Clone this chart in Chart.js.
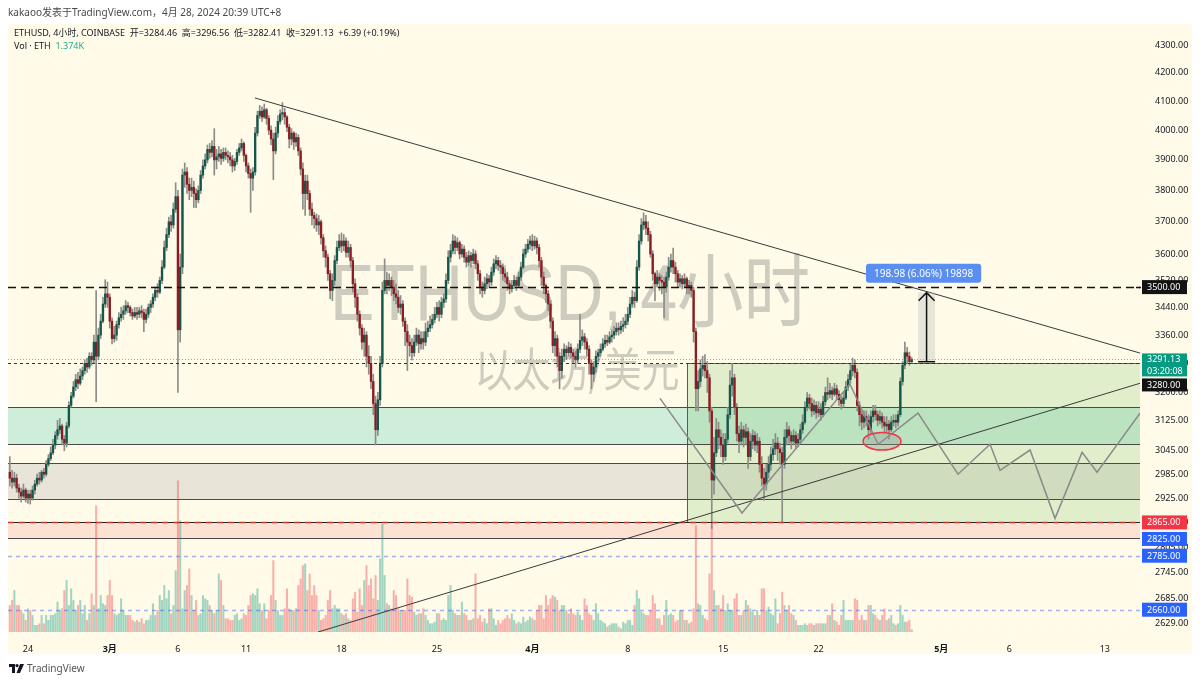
<!DOCTYPE html>
<html>
<head>
<meta charset="utf-8">
<script src="https://cdn.jsdelivr.net/npm/chart.js@4.4.1/dist/chart.umd.min.js"></script>
<style>
  html, body { margin: 0; padding: 0; background: #ffffff; }
  #wrap { position: relative; width: 1200px; height: 681px; overflow: hidden; font-family: 'Noto Sans', 'Noto Sans CJK SC', sans-serif; }
  #chart { position: absolute; left: 0; top: 0; }
  #hdr { position: absolute; left: 8px; top: 4px; font-size: 10px; color: #4a4a4a; white-space: nowrap; }
  #foot { position: absolute; left: 9px; top: 661px; font-size: 10px; color: #555; white-space: nowrap; display: flex; align-items: center; gap: 3px; }
</style>
</head>
<body>
<div id="wrap">
  <canvas id="chart" width="1200" height="681"></canvas>
  <div id="hdr">kakaoo发表于TradingView.com，4月 28, 2024 20:39 UTC+8</div>
  <div id="foot">
    <svg width="15" height="9" viewBox="0 0 15 9"><path d="M0 0h6v9H3V3H0z" fill="#131722"/><circle cx="8" cy="1.6" r="1.6" fill="#131722"/><path d="M11 0h4l-4 9H7.5z" fill="#131722"/></svg>
    <span>TradingView</span>
  </div>
</div>
<script>
// ETHUSD 4h candles (UTC+8), first one = Feb 22 16:00, last = Apr 28 20:00
const firstOpen = 2990;
const closes = [
  2975,2965,2975,2950,2940,2930,2945,2925,
  2935,2925,2945,2960,2975,2970,
  2990,2985,3010,3025,3040,3060,
  3085,3100,3110,3075,3065,3110,
  3165,3190,3215,3235,3225,3245,
  3260,3280,3270,3300,3290,3340,
  3300,3360,3400,3450,3480,3470,
  3400,3350,3360,3390,3410,3420,
  3430,3445,3440,3425,3415,3425,
  3420,3430,3425,3405,3420,3440,
  3450,3470,3490,3485,3520,3560,
  3620,3660,3700,3690,3740,3780,
  3375,3560,3850,3860,3820,3800,
  3810,3790,3770,3800,3850,3880,
  3900,3935,3925,3945,3900,3910,
  3920,3905,3925,3915,3910,3900,
  3880,3895,3925,3940,3955,3915,
  3880,3855,3840,3860,3990,4050,
  4065,4045,4070,4040,4000,3970,
  3930,3990,4030,4055,4060,4045,
  4010,3970,3990,3960,3975,3930,
  3870,3790,3830,3790,3740,3720,
  3710,3690,3700,3650,3610,3590,
  3540,3490,3520,3580,3620,3640,
  3625,3640,3605,3620,3580,3510,
  3470,3420,3380,3340,3360,3300,
  3280,3230,3170,3100,3180,3280,
  3490,3520,3505,3520,3500,3480,
  3470,3440,3450,3400,3370,3340,
  3330,3310,3340,3360,3335,3350,
  3340,3370,3380,3390,3405,3420,
  3440,3420,3455,3465,3520,3590,
  3610,3640,3620,3635,3600,3615,
  3590,3575,3595,3580,3600,3570,
  3540,3500,3490,3510,3525,3515,
  3545,3570,3580,3565,3560,3540,
  3530,3510,3495,3505,3520,3505,
  3530,3560,3600,3615,3630,3640,
  3625,3640,3620,3580,3530,3505,
  3480,3450,3400,3330,3350,3300,
  3260,3300,3320,3310,3325,3310,
  3300,3290,3320,3345,3355,3340,
  3320,3280,3250,3270,3300,3310,
  3320,3335,3345,3340,3355,3360,
  3370,3380,3375,3385,3390,3400,
  3420,3450,3470,3460,3560,3640,
  3690,3700,3680,3660,3600,3540,
  3510,3530,3520,3515,3500,3530,
  3560,3580,3560,3540,3515,3525,
  3510,3525,3500,3505,3490,3370,
  3210,3230,3265,3275,3260,3240,
  3150,2970,3040,3100,3080,3060,
  3030,3075,3140,3220,3240,3160,
  3090,3070,3100,3080,3095,3030,
  3070,3085,3060,3070,3010,2975,
  2960,2990,3010,3035,3050,3065,
  3050,3040,3010,3080,3100,3085,
  3070,3085,3065,3075,3100,3120,
  3160,3185,3170,3150,3165,3145,
  3155,3140,3175,3200,3195,3205,
  3195,3210,3195,3180,3170,3185,
  3215,3235,3260,3275,3255,3165,
  3140,3120,3135,3125,3100,3135,
  3150,3140,3125,3135,3120,3110,
  3115,3100,3120,3125,3120,3140,
  3230,3275,3310,3300,3284.74,3291.13
];
const highs = [
  3030,2995,2990,2985,2960,2950,2960,2950,
  2945,2945,2955,2970,2985,2990,
  2995,3000,3020,3035,3055,3075,
  3095,3125,3130,3115,3085,3120,
  3175,3200,3230,3250,3255,3265,
  3270,3290,3295,3310,3310,3360,
  3490,3380,3420,3470,3522,3515,
  3480,3410,3385,3400,3425,3440,
  3445,3460,3455,3445,3435,3440,
  3440,3440,3445,3435,3435,3450,
  3460,3480,3500,3510,3530,3580,
  3640,3680,3715,3720,3760,3825,
  3800,3600,3870,3890,3875,3840,
  3840,3830,3805,3815,3865,3900,
  3920,3950,3955,3965,4005,3935,
  3945,3935,3940,3940,3930,3925,
  3915,3905,3935,3955,3970,3960,
  3920,3890,3870,3875,4010,4065,
  4085,4080,4090,4075,4050,4015,
  3990,4010,4050,4070,4095,4075,
  4050,4020,4005,3995,3990,3985,
  3940,3890,3850,3850,3800,3760,
  3730,3725,3720,3705,3660,3625,
  3600,3550,3540,3595,3640,3660,
  3665,3660,3650,3640,3630,3590,
  3525,3480,3430,3390,3380,3370,
  3330,3300,3250,3190,3200,3300,
  3515,3585,3545,3540,3530,3520,
  3510,3490,3475,3460,3410,3390,
  3360,3350,3360,3380,3375,3370,
  3370,3395,3400,3415,3420,3440,
  3455,3460,3470,3480,3540,3610,
  3630,3660,3655,3650,3640,3630,
  3625,3605,3610,3605,3615,3610,
  3580,3550,3515,3530,3540,3535,
  3560,3585,3595,3590,3580,3570,
  3555,3545,3520,3520,3535,3530,
  3545,3575,3615,3630,3645,3655,
  3660,3655,3650,3630,3590,3545,
  3510,3490,3460,3410,3370,3360,
  3310,3320,3335,3330,3340,3335,
  3320,3315,3335,3420,3375,3365,
  3350,3330,3290,3285,3315,3320,
  3335,3350,3360,3360,3370,3375,
  3385,3395,3395,3400,3410,3420,
  3440,3470,3490,3485,3580,3660,
  3710,3728,3720,3700,3670,3610,
  3545,3550,3540,3535,3530,3545,
  3590,3600,3618,3575,3550,3540,
  3535,3540,3530,3520,3515,3500,
  3380,3260,3290,3300,3305,3285,
  3250,3160,3080,3130,3120,3100,
  3090,3090,3160,3260,3280,3250,
  3170,3110,3120,3110,3115,3105,
  3090,3100,3095,3090,3080,3030,
  3000,3010,3030,3055,3075,3090,
  3080,3065,3055,3100,3120,3110,
  3095,3100,3095,3090,3115,3140,
  3175,3200,3195,3185,3180,3175,
  3175,3170,3190,3215,3240,3225,
  3215,3225,3220,3205,3190,3200,
  3230,3250,3280,3295,3290,3265,
  3175,3150,3150,3150,3140,3150,
  3165,3165,3150,3150,3145,3135,
  3135,3125,3135,3140,3140,3150,
  3240,3285,3340,3325,3312,3296.56
];
const lows = [
  2955,2950,2955,2940,2925,2915,2925,2915,
  2912,2910,2920,2935,2955,2960,
  2965,2975,2980,3005,3020,3035,
  3050,3075,3090,3060,3045,3055,
  3105,3160,3185,3205,3210,3220,
  3235,3250,3255,3265,3275,3280,
  3175,3290,3350,3395,3440,3440,
  3380,3335,3340,3345,3380,3400,
  3405,3420,3425,3415,3405,3410,
  3405,3410,3410,3370,3395,3410,
  3425,3440,3460,3470,3480,3510,
  3555,3610,3650,3670,3680,3730,
  3200,3340,3540,3810,3790,3770,
  3780,3745,3745,3760,3790,3840,
  3870,3890,3905,3910,3850,3870,
  3895,3885,3895,3900,3890,3880,
  3860,3865,3885,3915,3930,3895,
  3860,3840,3730,3800,3850,3980,
  4040,4030,4040,4020,3985,3950,
  3835,3920,3975,4020,4035,4020,
  3995,3940,3950,3935,3945,3915,
  3850,3740,3720,3770,3720,3690,
  3680,3670,3660,3630,3590,3560,
  3520,3465,3460,3505,3570,3610,
  3605,3610,3590,3590,3560,3485,
  3440,3400,3360,3320,3300,3270,
  3250,3210,3140,3060,3085,3165,
  3270,3480,3480,3490,3475,3460,
  3450,3425,3420,3385,3330,3260,
  3300,3290,3300,3330,3310,3320,
  3320,3330,3355,3370,3380,3395,
  3410,3400,3410,3440,3455,3510,
  3575,3600,3600,3610,3585,3590,
  3575,3560,3565,3560,3570,3555,
  3520,3480,3470,3480,3495,3500,
  3505,3535,3555,3550,3540,3520,
  3515,3490,3480,3485,3495,3490,
  3500,3520,3555,3590,3605,3615,
  3610,3615,3600,3560,3505,3480,
  3455,3430,3380,3310,3300,3270,
  3210,3240,3285,3290,3300,3295,
  3280,3270,3280,3310,3330,3320,
  3300,3250,3210,3230,3255,3285,
  3300,3315,3325,3330,3335,3340,
  3350,3360,3360,3365,3370,3380,
  3390,3410,3440,3440,3455,3550,
  3630,3675,3660,3640,3590,3520,
  3460,3500,3490,3480,3410,3485,
  3520,3545,3540,3515,3500,3500,
  3495,3500,3480,3480,3470,3340,
  3150,3150,3215,3245,3240,3200,
  3120,2850,2935,3030,3050,3030,
  3010,3020,3065,3130,3190,3140,
  3070,3040,3060,3055,3060,3000,
  3020,3050,3045,3040,2990,2955,
  2920,2945,2975,2995,3020,3035,
  3020,3010,2866,3000,3060,3065,
  3050,3060,3050,3055,3065,3090,
  3115,3150,3155,3135,3140,3130,
  3135,3125,3135,3165,3180,3185,
  3180,3190,3180,3165,3155,3160,
  3180,3205,3225,3245,3240,3150,
  3110,3100,3105,3110,3075,3090,
  3120,3125,3110,3115,3105,3095,
  3095,3075,3095,3110,3105,3110,
  3135,3220,3265,3280,3275,3282.41
];
// volume, thousand ETH
const volumes = [
  16,19,25,16,16,13,11,7,14,13,10,4,4,5,10,5,10,7,10,10,11,18,13,14,25,31,16,26,19,13,16,19,11,16,7,11,23,16,
  76,
  14,22,17,16,22,31,22,11,10,11,20,13,10,10,10,7,6,7,6,8,5,7,7,10,17,10,13,22,19,28,20,25,11,16,37,
  91,67,
  14,25,28,38,22,13,19,10,11,22,20,19,16,13,11,13,35,31,16,8,8,7,7,10,11,7,8,11,10,16,22,23,22,26,17,13,17,8,13,22,
  43,
  19,13,10,10,14,26,14,13,13,14,28,32,40,
  41,25,35,22,28,22,13,7,8,10,19,25,14,16,14,14,11,10,11,8,7,20,24,12,26,16,31,40,28,32,20,34,19,44,
  65,
  34,17,16,14,25,22,14,13,13,13,32,22,21,12,10,11,11,14,10,7,5,5,6,11,11,7,8,7,22,28,13,11,10,10,18,11,10,7,7,8,35,
  8,10,6,8,5,14,14,8,4,7,5,7,8,10,8,11,7,5,6,5,9,6,7,9,8,7,13,16,16,8,22,16,20,22,21,19,13,16,16,13,11,14,11,10,12,10,7,20,16,11,10,7,17,11,7,6,5,3,4,5,
  5,5,3,2,6,5,7,7,4,16,25,20,12,11,10,10,13,22,17,8,8,4,10,19,10,11,10,6,7,13,13,7,7,5,6,14,
  64,
  17,16,10,8,7,
  35,64,
  25,16,16,14,22,13,17,13,13,20,23,10,10,13,19,16,14,12,10,13,10,26,26,13,15,11,10,20,5,11,24,16,13,16,11,10,7,4,4,4,
  5,4,5,5,4,5,5,5,5,5,10,10,17,7,6,4,10,19,7,7,7,7,20,19,7,10,7,7,16,16,11,10,8,7,10,14,7,8,10,5,4,5,16,10,6,6,7,1.374
];

// time axis: candle index of each labelled midnight, and its label
const timeTickIndex = [8, 44, 74, 104, 146, 188, 230, 272, 314, 356, 410, 440, 482];
const timeTickLabels = ['24', '3月', '6', '11', '18', '25', '4月', '8', '15', '22', '5月', '6', '13'];
const monthLabels = ['3月', '4月', '5月'];
const priceTicks = [4300, 4200, 4100, 4000, 3900, 3800, 3700, 3600, 3520, 3440, 3360, 3280,
                    3200, 3125, 3045, 2985, 2925, 2865, 2805, 2745, 2685, 2629];

// last bar as shown in the legend
const lastOpen = 3284.46;

// drawings on the chart (candle index, price)
const upperTrendK = [107.9, 497.5], upperTrendP = [4111, 3309];
const lowerTrendK = [135.7, 497.5], lowerTrendP = [2610, 3225];
const zigK = [286.2, 322.3, 369.8, 382.2, 399.8, 417.4, 431.5, 435.9, 449.1, 460.1, 472.0, 478.6, 497.5];
const zigP = [3184, 2888, 3223, 3062, 3144, 2985, 3062, 2995, 3047, 2875, 3041, 2990, 3144];
const rangeStart = 3284.46, rangeEnd = 3483.44;

const N = closes.length;
if (highs.length !== N || lows.length !== N || volumes.length !== N) {
  console.error('length mismatch', N, highs.length, lows.length, volumes.length);
}
const opens = closes.map((c, i) => (i === 0 ? firstOpen : (i === N - 1 ? lastOpen : closes[i - 1])));
const isUp = closes.map((c, i) => c >= opens[i]);

const FONT = "'Noto Sans', 'Noto Sans CJK SC', sans-serif";
const CREAM = '#fffbe8';

const tvDraw = {
  id: 'tvDraw',
  beforeDraw(chart) {
    const ctx = chart.ctx;
    ctx.save();
    ctx.fillStyle = CREAM;
    ctx.fillRect(8, 24, 1184, 630);
    ctx.restore();
  },
  beforeDatasetsDraw(chart) {
    const ctx = chart.ctx, a = chart.chartArea;
    const X = chart.scales.x, Y = chart.scales.y;
    const px = k => X.getPixelForValue(k), py = p => Y.getPixelForValue(p);
    ctx.save();
    ctx.beginPath(); ctx.rect(a.left, a.top, a.right - a.left, a.bottom - a.top); ctx.clip();

    // watermark
    const cx = (a.left + a.right) / 2, cy = (a.top + a.bottom) / 2;
    ctx.fillStyle = 'rgba(120,120,120,0.36)';
    ctx.textAlign = 'center'; ctx.textBaseline = 'alphabetic';
    ctx.font = "80px 'Liberation Sans', 'Noto Sans CJK SC', sans-serif";
    const t1 = 'ETHUSD, 4小时';
    const w1 = ctx.measureText(t1).width;
    ctx.save(); ctx.translate(cx - 4, cy - 8); ctx.scale(480 / w1, 1); ctx.fillText(t1, 0, 0); ctx.restore();
    ctx.font = "46px 'Noto Sans CJK SC', sans-serif";
    const t2 = '以太坊/美元';
    const w2 = ctx.measureText(t2).width;
    ctx.save(); ctx.translate(cx + 3, cy + 58); ctx.scale(205 / w2, 1); ctx.fillText(t2, 0, 0); ctx.restore();

    const hband = (top, bottom, fill) => {
      const y1 = py(top), y2 = py(bottom);
      ctx.fillStyle = fill;
      ctx.fillRect(a.left, y1, a.right - a.left, y2 - y1);
    };
    hband(3160, 3062, 'rgba(38,190,170,0.22)');
    hband(3013, 2922, 'rgba(130,128,140,0.18)');
    hband(2865, 2827, 'rgba(242,54,69,0.13)');

    // long position box
    const gx = px(298.1), gy1 = py(3280), gy2 = py(2865);
    ctx.fillStyle = 'rgba(120,190,100,0.22)';
    ctx.fillRect(gx, gy1, a.right - gx, gy2 - gy1);
    ctx.strokeStyle = '#5a5a5a'; ctx.lineWidth = 1;
    ctx.beginPath();
    ctx.moveTo(a.right, Math.round(gy1) + 0.5); ctx.lineTo(Math.round(gx) + 0.5, Math.round(gy1) + 0.5);
    ctx.lineTo(Math.round(gx) + 0.5, Math.round(gy2) + 0.5);
    ctx.stroke();

    // zone borders
    ctx.strokeStyle = '#4a4a4a'; ctx.lineWidth = 1;
    [3160, 3062, 3013, 2922, 2827].forEach(p => {
      const y = Math.round(py(p)) + 0.5;
      ctx.beginPath(); ctx.moveTo(a.left, y); ctx.lineTo(a.right, y); ctx.stroke();
    });
    ctx.restore();
  },
  afterDatasetsDraw(chart) {
    const ctx = chart.ctx, a = chart.chartArea;
    const X = chart.scales.x, Y = chart.scales.y;
    const px = k => X.getPixelForValue(k), py = p => Y.getPixelForValue(p);
    ctx.save();
    ctx.beginPath(); ctx.rect(a.left, a.top, a.right - a.left, a.bottom - a.top); ctx.clip();

    const hline = (p, color, width, dash) => {
      const y = Math.round(py(p)) + 0.5;
      ctx.strokeStyle = color; ctx.lineWidth = width; ctx.setLineDash(dash);
      ctx.beginPath(); ctx.moveTo(a.left, y); ctx.lineTo(a.right, y); ctx.stroke();
      ctx.setLineDash([]);
    };
    hline(3500, '#111111', 1.5, [8, 5]);
    hline(3291.13, 'rgba(8,153,129,0.6)', 1, [1, 2]);
    hline(3280, '#333333', 1, [3, 3]);
    hline(2865, '#222222', 1, []);
    hline(2865, '#c0392b', 1.6, [6, 5]);
    hline(2785, 'rgba(41,98,255,0.45)', 1.5, [4, 4]);
    hline(2660, 'rgba(41,98,255,0.45)', 1.5, [4, 4]);

    const poly = (ks, ps, color, width) => {
      ctx.strokeStyle = color; ctx.lineWidth = width;
      ctx.beginPath();
      ks.forEach((k, i) => { const x = px(k), y = py(ps[i]); i ? ctx.lineTo(x, y) : ctx.moveTo(x, y); });
      ctx.stroke();
    };
    poly(upperTrendK, upperTrendP, '#3a3a3a', 1);
    poly(lowerTrendK, lowerTrendP, '#3a3a3a', 1);
    poly(zigK, zigP, '#8a8a8a', 1.5);

    // ellipse around the higher low
    const ex1 = px(375.6), ex2 = px(392.3), ey1 = py(3093), ey2 = py(3047);
    ctx.beginPath();
    ctx.ellipse((ex1 + ex2) / 2, (ey1 + ey2) / 2, (ex2 - ex1) / 2, (ey2 - ey1) / 2, 0, 0, Math.PI * 2);
    ctx.fillStyle = 'rgba(150,150,150,0.35)'; ctx.fill();
    ctx.strokeStyle = '#f23645'; ctx.lineWidth = 1.5; ctx.stroke();

    // price range measure
    const rx1 = px(399.8), rx2 = px(407.3), rxc = (rx1 + rx2) / 2;
    const ry1 = py(rangeEnd), ry2 = py(rangeStart);
    ctx.fillStyle = 'rgba(185,185,185,0.35)';
    ctx.fillRect(rx1, ry1, rx2 - rx1, ry2 - ry1);
    ctx.strokeStyle = '#111'; ctx.lineWidth = 1.5;
    ctx.beginPath();
    ctx.moveTo(rxc, ry2); ctx.lineTo(rxc, ry1);
    ctx.moveTo(rx1 + 0.5, ry1 + 8); ctx.lineTo(rxc, ry1); ctx.lineTo(rx2 - 0.5, ry1 + 8);
    ctx.moveTo(rx1, ry2); ctx.lineTo(rx2, ry2);
    ctx.stroke();
    ctx.restore();

    // range label
    ctx.save();
    const lbl = (rangeEnd - rangeStart).toFixed(2) + ' (' + ((rangeEnd - rangeStart) / rangeStart * 100).toFixed(2) + '%) ' +
                Math.round((rangeEnd - rangeStart) * 100);
    ctx.font = '10px ' + FONT;
    const lw = ctx.measureText(lbl).width + 16;
    const lx = rxc - lw / 2 - 3, ly = ry1 - 29;
    ctx.fillStyle = '#5a8ef0';
    ctx.beginPath(); ctx.roundRect(lx, ly, lw, 19, 3); ctx.fill();
    ctx.fillStyle = '#ffffff'; ctx.textAlign = 'center'; ctx.textBaseline = 'middle';
    ctx.fillText(lbl, lx + lw / 2, ly + 10);

    // legend
    ctx.textAlign = 'left'; ctx.textBaseline = 'middle';
    ctx.font = '9px ' + FONT;
    ctx.fillStyle = '#131722';
    const last = N - 1;
    const chg = closes[last] - closes[last - 1];
    const txt = 'ETHUSD, 4小时, COINBASE  开=' + opens[last].toFixed(2) + '  高=' + highs[last].toFixed(2) +
                '  低=' + lows[last].toFixed(2) + '  收=' + closes[last].toFixed(2) + '  +' + chg.toFixed(2) +
                ' (+' + (chg / closes[last - 1] * 100).toFixed(2) + '%)';
    ctx.fillText(txt, 14, 33);
    ctx.fillText('Vol · ETH', 14, 46);
    const vw = ctx.measureText('Vol · ETH  ').width;
    ctx.fillStyle = '#22ab94';
    ctx.fillText(volumes[last].toFixed(3) + 'K', 14 + vw, 46);
    ctx.restore();
  },
  afterDraw(chart) {
    const ctx = chart.ctx, Y = chart.scales.y;
    const py = p => Y.getPixelForValue(p);
    const bx = 1142, bw = 45;
    ctx.save();
    ctx.font = '9px ' + FONT;
    ctx.textAlign = 'left'; ctx.textBaseline = 'middle';
    const box = (yTop, h, bg, lines) => {
      ctx.fillStyle = bg;
      ctx.fillRect(bx, yTop, bw, h);
      ctx.fillStyle = '#ffffff';
      lines.forEach((t, i) => ctx.fillText(t, bx + 5, yTop + h / lines.length * (i + 0.5) + 0.5));
    };
    box(py(3500) - 7, 14, '#131313', ['3500.00']);
    const ty = py(3291.13) - 6;
    box(ty, 23, '#089981', ['3291.13', '03:20:08']);
    box(ty + 25, 13, '#131313', ['3280.00']);
    box(py(2865) - 7, 14, '#f23645', ['2865.00']);
    box(py(2825) - 7, 14, '#2962ff', ['2825.00']);
    box(py(2785) - 7, 14, '#2962ff', ['2785.00']);
    box(py(2660) - 7, 14, '#2962ff', ['2660.00']);
    // small mark for the 3500 line on the scale edge
    ctx.strokeStyle = '#111'; ctx.lineWidth = 1.5;
    ctx.beginPath(); ctx.moveTo(1136, Math.round(py(3500)) + 0.5); ctx.lineTo(1141, Math.round(py(3500)) + 0.5); ctx.stroke();
    ctx.restore();
  }
};

const idx = closes.map((c, i) => i);
const ctx = document.getElementById('chart').getContext('2d');
new Chart(ctx, {
  type: 'bar',
  data: {
    datasets: [
      {
        label: 'body',
        data: idx.map(i => ({ x: i, y: [opens[i], closes[i]] })),
        backgroundColor: idx.map(i => (isUp[i] ? '#13564a' : '#8e1b22')),
        borderWidth: 0,
        barThickness: 1.7,
        minBarLength: 1,
        grouped: false,
        yAxisID: 'y',
        order: 1
      },
      {
        label: 'wick',
        data: idx.map(i => ({ x: i, y: [lows[i], highs[i]] })),
        backgroundColor: '#8d8d88',
        barThickness: 1,
        grouped: false,
        yAxisID: 'y',
        order: 2
      },
      {
        label: 'volume',
        data: idx.map(i => ({ x: i, y: volumes[i] })),
        backgroundColor: idx.map(i => (isUp[i] ? 'rgba(8,153,129,0.38)' : 'rgba(242,54,69,0.38)')),
        barThickness: 1.4,
        grouped: false,
        yAxisID: 'yVol',
        order: 3
      }
    ]
  },
  options: {
    responsive: false,
    animation: false,
    devicePixelRatio: 1,
    layout: { padding: { left: 8, top: 24, right: 8, bottom: 27 } },
    plugins: { legend: { display: false }, tooltip: { enabled: false } },
    scales: {
      x: {
        type: 'linear',
        min: -0.8,
        max: 497.5,
        offset: false,
        grid: { display: false },
        border: { display: false },
        afterBuildTicks: s => { s.ticks = timeTickIndex.map(v => ({ value: v })); },
        afterFit: s => { s.height = 22; },
        ticks: {
          autoSkip: false,
          maxRotation: 0,
          padding: 4,
          color: '#131722',
          font: c => ({ family: FONT, size: 9, weight: (c.tick && monthLabels.includes(c.tick.label)) ? 'bold' : 'normal' }),
          callback: v => {
            const j = timeTickIndex.indexOf(v);
            return j >= 0 ? timeTickLabels[j] : '';
          }
        }
      },
      y: {
        type: 'logarithmic',
        position: 'right',
        min: 2610,
        max: 4378,
        beginAtZero: false,
        grid: { display: false },
        border: { display: false },
        afterBuildTicks: s => { s.ticks = priceTicks.map(v => ({ value: v })); },
        afterFit: s => { s.width = 52; },
        ticks: {
          autoSkip: false,
          padding: 7,
          color: '#131722',
          font: { family: FONT, size: 9 },
          callback: v => Number(v).toFixed(2)
        }
      },
      yVol: {
        type: 'linear',
        display: false,
        min: 0,
        max: 366
      }
    }
  },
  plugins: [tvDraw]
});
</script>
</body>
</html>
